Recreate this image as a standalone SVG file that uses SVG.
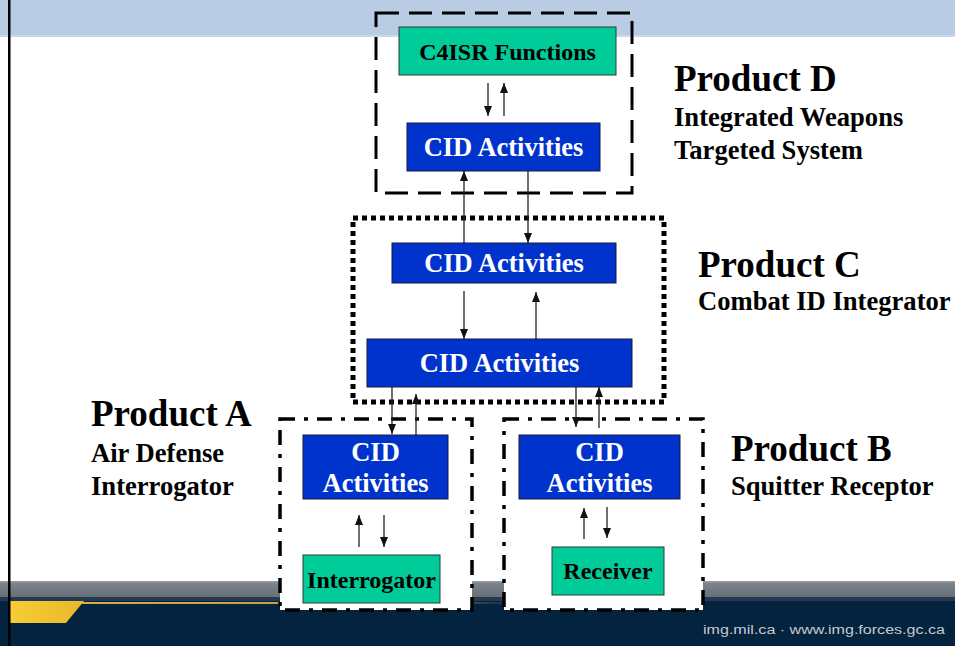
<svg xmlns="http://www.w3.org/2000/svg" width="955" height="646" viewBox="0 0 955 646">
<defs>
<linearGradient id="gray" x1="0" y1="0" x2="0" y2="1">
<stop offset="0" stop-color="#9aa0a6"/><stop offset="0.15" stop-color="#7c838a"/><stop offset="1" stop-color="#656d76"/>
</linearGradient>
<linearGradient id="yel" x1="0" y1="0" x2="1" y2="0">
<stop offset="0" stop-color="#f7cd35"/><stop offset="1" stop-color="#e9b82a"/>
</linearGradient>
<linearGradient id="yline" x1="0" y1="0" x2="1" y2="0">
<stop offset="0" stop-color="#d9b040"/><stop offset="0.6" stop-color="#c8a040"/><stop offset="1" stop-color="#c8a040" stop-opacity="0"/>
</linearGradient>
<marker id="ah" markerUnits="userSpaceOnUse" markerWidth="10" markerHeight="8" refX="10" refY="4" orient="auto">
<path d="M0,0 L10,4 L0,8 z" fill="#111"/>
</marker>
</defs>
<style>
.teal{fill:#00cc99;stroke:#2a3a36;stroke-width:1}
.blue{fill:#0033cc;stroke:#1a1a40;stroke-width:1}
.bt{font-family:"Liberation Serif","Times New Roman",serif;font-weight:bold;fill:#000}
.wt{font-family:"Liberation Serif","Times New Roman",serif;font-weight:bold;fill:#fff;font-size:26.5px}
.lbl{font-family:"Liberation Serif","Times New Roman",serif;font-weight:bold;fill:#000}
.big{font-size:37px}
.sub{font-size:26.6px}
.conn line{stroke:#222;stroke-width:1.3;marker-end:url(#ah)}
</style>
<!-- background -->
<rect x="0" y="0" width="955" height="646" fill="#fff"/>
<rect x="0" y="0" width="955" height="35" fill="#b9cce4"/>
<rect x="0" y="35" width="955" height="2" fill="#c9d8ec"/>
<rect x="0" y="581" width="955" height="17" fill="url(#gray)"/>
<rect x="0" y="597" width="955" height="4" fill="#243a52"/>
<rect x="0" y="601" width="955" height="45" fill="#04233f"/>
<rect x="10" y="602" width="520" height="2" fill="url(#yline)"/>
<polygon points="10,601 84,601 66,623 10,623" fill="url(#yel)"/>
<rect x="8" y="0" width="2.5" height="646" fill="#000"/>
<text x="945" y="634" text-anchor="end" font-family="Liberation Sans, Arial, sans-serif" font-size="12.5" fill="#c4cad1" textLength="242" lengthAdjust="spacingAndGlyphs">img.mil.ca · www.img.forces.gc.ca</text>

<!-- group boxes -->
<g id="product-d">
<rect x="376" y="13" width="256" height="180" fill="none" stroke="#000" stroke-width="3" stroke-dasharray="23 10"/>
<text class="lbl big" x="674" y="91">Product D</text>
<text class="lbl sub" x="674" y="126">Integrated Weapons</text>
<text class="lbl sub" x="674" y="159">Targeted System</text>
</g>
<g id="product-c">
<rect x="353" y="218" width="311" height="184" fill="none" stroke="#000" stroke-width="5" stroke-dasharray="5 4"/>
<text class="lbl big" x="698" y="277">Product C</text>
<text class="lbl sub" x="698" y="310">Combat ID Integrator</text>
</g>
<g id="product-a">
<rect x="280" y="419" width="192" height="191" fill="#fff" stroke="#000" stroke-width="3.5" stroke-dasharray="15 9 4 9"/>
<text class="lbl big" x="91" y="426">Product A</text>
<text class="lbl sub" x="91" y="462">Air Defense</text>
<text class="lbl sub" x="91" y="495">Interrogator</text>
</g>
<g id="product-b">
<rect x="504" y="419" width="199" height="191" fill="#fff" stroke="#000" stroke-width="3.5" stroke-dasharray="15 9 4 9"/>
<text class="lbl big" x="731" y="461">Product B</text>
<text class="lbl sub" x="731" y="495">Squitter Receptor</text>
</g>

<!-- nodes -->
<g id="c4isr">
<rect class="teal" x="399" y="27" width="217" height="48"/>
<text class="bt" x="507.5" y="59.5" font-size="24" text-anchor="middle">C4ISR Functions</text>
</g>
<g id="cid-d">
<rect class="blue" x="407" y="123" width="193" height="48"/>
<text class="wt" x="503.5" y="156" text-anchor="middle">CID Activities</text>
</g>
<g id="cid-c-top">
<rect class="blue" x="392" y="243" width="224" height="40"/>
<text class="wt" x="504" y="272" text-anchor="middle">CID Activities</text>
</g>
<g id="cid-c-bottom">
<rect class="blue" x="367" y="339" width="265" height="48"/>
<text class="wt" x="499.5" y="372" text-anchor="middle">CID Activities</text>
</g>
<g id="cid-a">
<rect class="blue" x="303" y="435" width="145" height="64"/>
<text class="wt" x="375.5" y="461" text-anchor="middle">CID</text>
<text class="wt" x="375.5" y="492" text-anchor="middle">Activities</text>
</g>
<g id="interrogator">
<rect class="teal" x="303" y="555" width="137" height="48"/>
<text class="bt" x="371.5" y="588" font-size="24" text-anchor="middle">Interrogator</text>
</g>
<g id="cid-b">
<rect class="blue" x="519" y="435" width="161" height="64"/>
<text class="wt" x="599.5" y="461" text-anchor="middle">CID</text>
<text class="wt" x="599.5" y="492" text-anchor="middle">Activities</text>
</g>
<g id="receiver">
<rect class="teal" x="552" y="547" width="112" height="48"/>
<text class="bt" x="608" y="579" font-size="24" text-anchor="middle">Receiver</text>
</g>

<!-- connectors -->
<g id="connectors" class="conn">
<line x1="488" y1="83" x2="488" y2="116"/>
<line x1="504" y1="116" x2="504" y2="83"/>
<line x1="464" y1="243" x2="464" y2="171"/>
<line x1="528" y1="171" x2="528" y2="243"/>
<line x1="464" y1="291" x2="464" y2="339"/>
<line x1="536" y1="339" x2="536" y2="292"/>
<line x1="392" y1="387" x2="392" y2="434"/>
<line x1="416" y1="435" x2="416" y2="394"/>
<line x1="576" y1="387" x2="576" y2="427"/>
<line x1="599" y1="428" x2="599" y2="387"/>
<line x1="359" y1="547" x2="359" y2="515"/>
<line x1="384" y1="515" x2="384" y2="547"/>
<line x1="584" y1="539" x2="584" y2="508"/>
<line x1="607" y1="507" x2="607" y2="538"/>
</g>
</svg>
